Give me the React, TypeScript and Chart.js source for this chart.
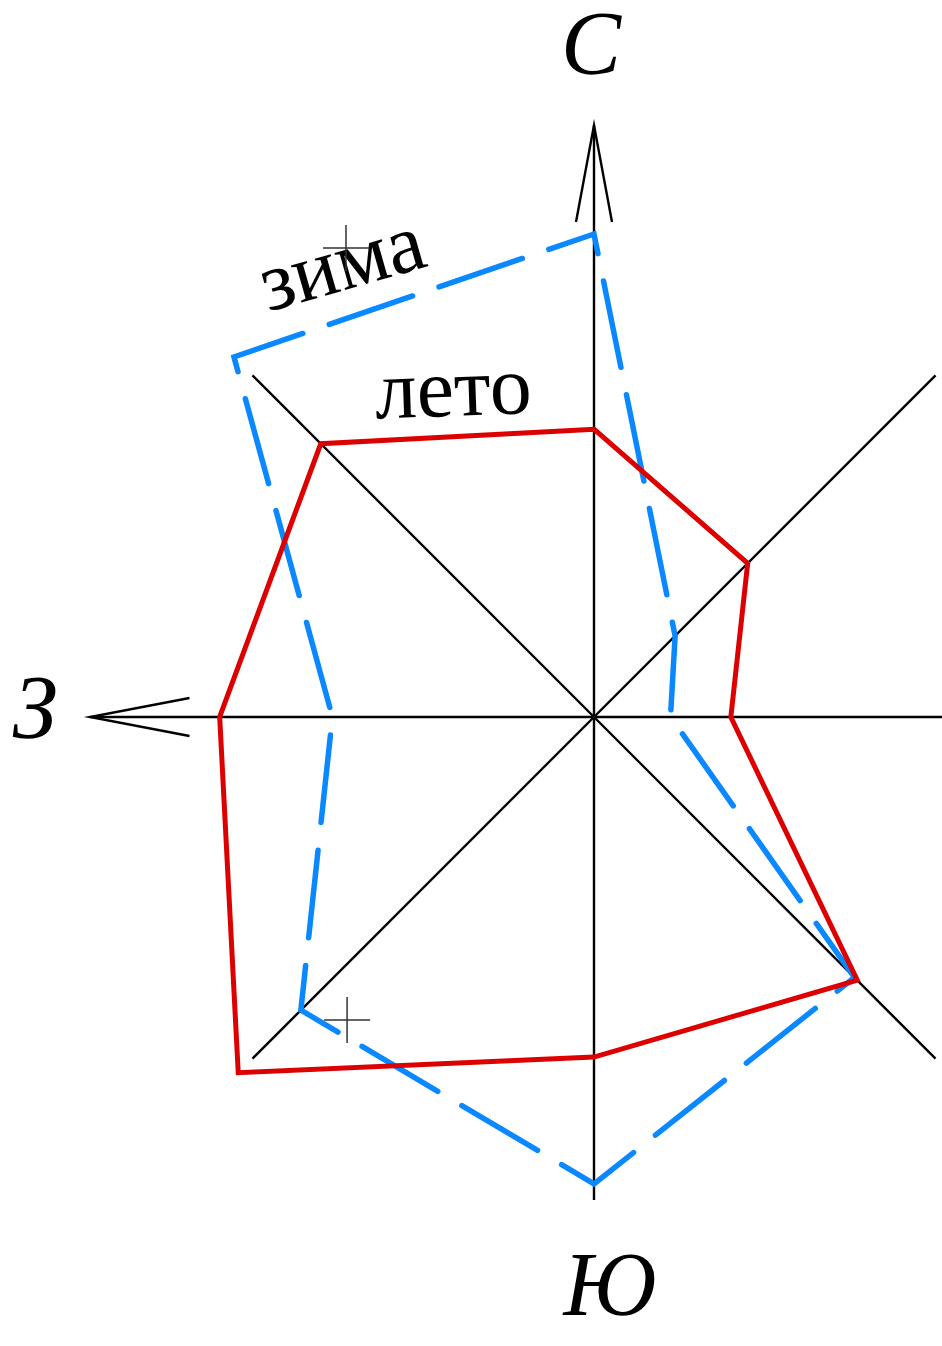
import React, { useEffect, useRef } from 'react';
import { Chart, registerables } from 'chart.js';

Chart.register(...registerables);

// Wind directions, clockwise from north
const directions = ['С', 'СВ', 'В', 'ЮВ', 'Ю', 'ЮЗ', 'З', 'СЗ'];
// Wind frequency (relative units), summer and winter
const summer = [14.3, 10.8, 6.8, 18.5, 16.9, 25.0, 18.6, 19.2];
const winter = [24.0, 5.7, 3.8, 18.3, 23.2, 20.6, 13.0, 25.3];
const seriesNames = ['лето', 'зима'];
const compassLabels = ['С', 'З', 'Ю'];
const axisMax = 24;

const W = 942;
const H = 1346;
const CANVAS_W = 1200;

const FONT_BIG = 'italic 90px "Liberation Serif", "Times New Roman", serif';
const FONT_SERIES = '84px "Liberation Serif", "Times New Roman", serif';

const decorPlugin = {
  id: 'decor',
  beforeDatasetsDraw(chart: any) {
    const s = chart.scales.r;
    const ctx = chart.ctx;
    const P = (i: number, v: number) => s.getPointPositionForValue(i, v);
    const c = { x: s.xCenter, y: s.yCenter };
    ctx.save();
    ctx.strokeStyle = '#000';
    ctx.lineWidth = 2.4;
    ctx.lineCap = 'butt';
    // axis extensions: north, west (with arrows) and east (to the edge)
    const ext: [number, number][] = [[0, 29.4], [6, 25.04], [2, 32]];
    ext.forEach(([i, v]) => {
      const a = P(i, axisMax);
      const b = P(i, v);
      ctx.beginPath();
      ctx.moveTo(a.x, a.y);
      ctx.lineTo(b.x, b.y);
      ctx.stroke();
    });
    // arrow heads
    const arrows: [number, number, number, number][] = [[0, 29.4, 24.6, 18], [6, 25.04, 20.1, 19]];
    arrows.forEach(([i, tipV, baseV, hw]) => {
      const tip = P(i, tipV);
      const base = P(i, baseV);
      const len = Math.hypot(tip.x - c.x, tip.y - c.y);
      const ux = (tip.x - c.x) / len;
      const uy = (tip.y - c.y) / len;
      const nx = -uy;
      const ny = ux;
      ctx.beginPath();
      ctx.moveTo(base.x + nx * hw, base.y + ny * hw);
      ctx.lineTo(tip.x, tip.y);
      ctx.lineTo(base.x - nx * hw, base.y - ny * hw);
      ctx.stroke();
    });
    ctx.restore();
  },
  afterDatasetsDraw(chart: any) {
    const s = chart.scales.r;
    const ctx = chart.ctx;
    const P = (i: number, v: number) => s.getPointPositionForValue(i, v);
    ctx.save();
    // compass letters
    ctx.fillStyle = '#000';
    ctx.font = FONT_BIG;
    ctx.textAlign = 'center';
    ctx.textBaseline = 'middle';
    const comp: [string, number, number, number, number][] = [
      [compassLabels[0], 0, 33.39, -3, 5],
      [compassLabels[1], 6, 27.78, 0, -3],
      [compassLabels[2], 4, 28.37, 16, 3],
    ];
    comp.forEach(([t, i, v, dx, dy]) => {
      const p = P(i, v);
      ctx.fillText(t, p.x + dx, p.y + dy);
    });
    // series names
    ctx.font = FONT_SERIES;
    ctx.textBaseline = 'alphabetic';
    const names: [string, number, number, number][] = [
      [seriesNames[1], 7.338, 24.51, -16],
      [seriesNames[0], 7.446, 16.5, -2],
    ];
    names.forEach(([t, i, v, rot]) => {
      const p = P(i, v);
      ctx.save();
      ctx.translate(p.x, p.y);
      ctx.rotate((rot * Math.PI) / 180);
      ctx.fillText(t, 0, 0);
      ctx.restore();
    });
    // construction crosses
    ctx.strokeStyle = '#333';
    ctx.lineWidth = 1.5;
    const crosses: [number, number][] = [[7.3806, 26.36], [4.8707, 19.42]];
    crosses.forEach(([i, v]) => {
      const p = P(i, v);
      ctx.beginPath();
      ctx.moveTo(p.x - 23, p.y);
      ctx.lineTo(p.x + 23, p.y);
      ctx.moveTo(p.x, p.y - 23);
      ctx.lineTo(p.x, p.y + 23);
      ctx.stroke();
    });
    ctx.restore();
  },
};

export default function App() {
  const ref = useRef<HTMLCanvasElement | null>(null);

  useEffect(() => {
    if (!ref.current) return;
    const chart = new Chart(ref.current, {
      type: 'radar',
      data: {
        labels: directions,
        datasets: [
          {
            label: seriesNames[0],
            data: summer,
            borderColor: '#dd0000',
            borderWidth: 5,
            borderJoinStyle: 'miter',
            fill: false,
            pointRadius: 0,
            pointHoverRadius: 0,
          },
          {
            label: seriesNames[1],
            data: winter,
            borderColor: '#0a88ff',
            borderWidth: 5.5,
            borderDash: [88, 28],
            borderDashOffset: 68,
            borderCapStyle: 'round',
            borderJoinStyle: 'miter',
            fill: false,
            pointRadius: 0,
            pointHoverRadius: 0,
          },
        ],
      },
      options: {
        responsive: false,
        maintainAspectRatio: false,
        animation: false,
        events: [],
        layout: { padding: { left: 111, right: CANVAS_W - 1077, top: 234, bottom: H - 1200 } },
        plugins: {
          legend: { display: false },
          title: { display: false },
          tooltip: { enabled: false },
        },
        scales: {
          r: {
            min: 0,
            max: axisMax,
            startAngle: 0,
            ticks: { display: false },
            grid: { display: false },
            pointLabels: { display: false },
            angleLines: { display: true, color: '#000', lineWidth: 2.4 },
          },
        },
      } as any,
      plugins: [decorPlugin],
    });
    return () => chart.destroy();
  }, []);

  return (
    <div
      style={{
        position: 'fixed',
        left: 0,
        top: 0,
        width: W,
        height: H,
        overflow: 'hidden',
        background: '#fff',
      }}
    >
      <canvas ref={ref} width={CANVAS_W} height={H} style={{ display: 'block' }} />
    </div>
  );
}
